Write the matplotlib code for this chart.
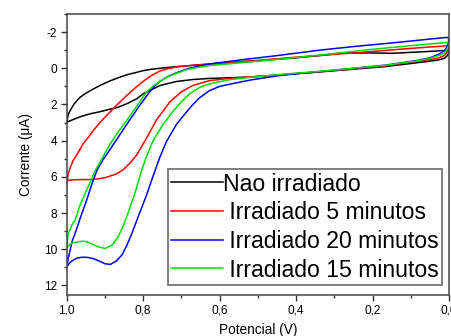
import matplotlib
matplotlib.use("Agg")
import matplotlib.pyplot as plt
from matplotlib.ticker import MultipleLocator, FuncFormatter

plt.rcParams['font.family'] = ['Liberation Sans', 'DejaVu Sans']
plt.rcParams['axes.unicode_minus'] = False

labels = ["Nao irradiado", " Irradiado 5 minutos", " Irradiado 20 minutos", " Irradiado 15 minutos"]
colors = ["#000000", "#ff0000", "#0000ff", "#00e000"]

black_x = [1.0, 0.996, 0.99, 0.98, 0.965, 0.95, 0.93, 0.91, 0.887, 0.865, 0.843, 0.82, 0.80, 0.78, 0.756,
           0.713, 0.652, 0.60, 0.50, 0.40, 0.33, 0.28, 0.21, 0.15, 0.08, 0.02, 0.004,
           0.0, 0.004, 0.012, 0.03, 0.078, 0.164, 0.25, 0.339, 0.42, 0.52, 0.582, 0.626, 0.67, 0.713,
           0.756, 0.783, 0.80, 0.817, 0.843, 0.865, 0.887, 0.913, 0.94, 0.965, 0.985, 1.0]
black_y = [2.98, 2.55, 2.3, 1.95, 1.6, 1.38, 1.14, 0.92, 0.70, 0.52, 0.36, 0.24, 0.13, 0.06, 0.0,
           -0.09, -0.19, -0.28, -0.42, -0.58, -0.72, -0.84, -0.85, -0.83, -0.90, -0.97, -0.99,
           -0.9, -0.7, -0.55, -0.45, -0.32, -0.1, 0.05, 0.2, 0.33, 0.48, 0.53, 0.56, 0.62, 0.73,
           0.95, 1.23, 1.41, 1.69, 1.96, 2.15, 2.26, 2.4, 2.52, 2.68, 2.85, 2.98]

red_x = [1.0, 0.998, 0.996, 0.99, 0.983, 0.97, 0.957, 0.943, 0.93, 0.91, 0.887, 0.865, 0.843, 0.82, 0.80,
         0.78, 0.756, 0.735, 0.713, 0.67, 0.626, 0.52, 0.42, 0.313, 0.2, 0.1, 0.02, 0.004,
         0.0, 0.005, 0.012, 0.03, 0.078, 0.164, 0.25, 0.339, 0.42, 0.52, 0.58, 0.626, 0.67, 0.70,
         0.73, 0.765, 0.791, 0.817, 0.835, 0.852, 0.869, 0.887, 0.899, 0.92, 0.943, 0.965, 0.985, 1.0]
red_y = [6.5, 6.1, 5.82, 5.45, 5.09, 4.65, 4.17, 3.8, 3.43, 2.92, 2.42, 1.95, 1.5, 1.07, 0.72,
         0.42, 0.15, 0.02, -0.08, -0.17, -0.24, -0.40, -0.58, -0.75, -0.93, -1.1, -1.22, -1.25,
         -1.2, -0.9, -0.7, -0.55, -0.4, -0.15, 0.02, 0.2, 0.33, 0.48, 0.57, 0.68, 0.95, 1.3,
         1.85, 2.85, 3.85, 4.8, 5.25, 5.6, 5.83, 5.96, 6.04, 6.12, 6.15, 6.15, 6.17, 6.2]

blue_x = [1.0, 0.996, 0.991, 0.985, 0.978, 0.965, 0.948, 0.935, 0.921, 0.905, 0.887, 0.865, 0.835, 0.81,
          0.783, 0.77, 0.756, 0.735, 0.713, 0.69, 0.67, 0.626, 0.55, 0.45, 0.339, 0.25, 0.15, 0.07, 0.02, 0.004,
          0.0, 0.004, 0.01, 0.025, 0.05, 0.078, 0.164, 0.25, 0.313, 0.4, 0.45, 0.52, 0.56, 0.6, 0.626,
          0.652, 0.67, 0.69, 0.713, 0.739, 0.756, 0.774, 0.791, 0.812, 0.83, 0.843, 0.855, 0.87, 0.886,
          0.9, 0.915, 0.93, 0.945, 0.96, 0.975, 0.99, 1.0]
blue_y = [10.97, 10.5, 10.05, 9.5, 9.13, 8.3, 7.3, 6.45, 5.64, 5.05, 4.5, 3.8, 2.85, 2.08,
          1.3, 0.98, 0.72, 0.45, 0.25, 0.07, -0.05, -0.24, -0.45, -0.7, -1.0, -1.2, -1.4, -1.57, -1.68, -1.71,
          -1.6, -1.25, -1.0, -0.79, -0.58, -0.45, -0.18, 0.0, 0.13, 0.3, 0.42, 0.65, 0.82, 1.0, 1.23,
          1.62, 2.0, 2.5, 3.1, 4.05, 4.9, 5.95, 7.0, 8.15, 9.15, 9.8, 10.3, 10.65, 10.84,
          10.8, 10.65, 10.52, 10.45, 10.44, 10.5, 10.7, 10.97]

green_x = [1.0, 0.998, 0.996, 0.985, 0.978, 0.965, 0.948, 0.925, 0.904, 0.887, 0.865, 0.843, 0.82, 0.791,
           0.775, 0.756, 0.735, 0.713, 0.69, 0.67, 0.626, 0.52, 0.42, 0.313, 0.2, 0.1, 0.03, 0.004,
           0.0, 0.005, 0.012, 0.025, 0.05, 0.078, 0.164, 0.25, 0.339, 0.42, 0.52, 0.58, 0.626, 0.652,
           0.678, 0.70, 0.725, 0.748, 0.774, 0.791, 0.805, 0.82, 0.838, 0.85, 0.865, 0.88, 0.899, 0.92,
           0.94, 0.955, 0.969, 0.985, 1.0]
green_y = [9.87, 9.4, 9.13, 8.6, 8.4, 7.55, 6.74, 5.64, 4.85, 4.2, 3.5, 2.88, 2.2, 1.3,
           1.0, 0.72, 0.47, 0.28, 0.1, 0.0, -0.15, -0.35, -0.55, -0.79, -1.05, -1.25, -1.38, -1.43,
           -1.35, -1.05, -0.85, -0.72, -0.55, -0.43, -0.17, 0.0, 0.17, 0.3, 0.5, 0.65, 0.86, 1.05,
           1.4, 1.85, 2.45, 3.1, 4.0, 4.85, 5.7, 6.8, 7.9, 8.6, 9.3, 9.75, 9.96, 9.85,
           9.65, 9.55, 9.59, 9.65, 9.87]

x_ticks = [1.0, 0.8, 0.6, 0.4, 0.2, 0.0]
y_ticks = [-2, 0, 2, 4, 6, 8, 10, 12]

fig = plt.figure(figsize=(4.52, 3.36), dpi=100)
ax = fig.add_axes([66.7 / 452, 1 - 294.5 / 336, (449 - 66.7) / 452, (294.5 - 14) / 336])

series = [(black_x, black_y), (red_x, red_y), (blue_x, blue_y), (green_x, green_y)]
for (xs, ys), c, lab in zip(series, colors, labels):
    ax.plot(xs, ys, color=c, lw=1.1, label=lab, solid_joinstyle='round')

ax.set_xlim(1.0, 0.0)
ax.set_ylim(12.5, -3)
ax.set_xticks(x_ticks)
ax.set_yticks(y_ticks)
ax.xaxis.set_minor_locator(MultipleLocator(0.1))
ax.yaxis.set_minor_locator(MultipleLocator(1))
ax.xaxis.set_major_formatter(FuncFormatter(lambda v, p: f"{v:.1f}".replace('.', ',')))
ax.yaxis.set_major_formatter(FuncFormatter(lambda v, p: f"{v:.0f}"))
ax.tick_params(which='major', length=4, width=1.0, labelsize=8.6, color='#333333', pad=3)
ax.tick_params(which='minor', length=2.5, width=1.0, color='#333333')
for s in ax.spines.values():
    s.set_color('#444444')
    s.set_linewidth(1.1)

ax.set_xlabel("Potencial (V)", fontsize=9.8, labelpad=5)
ax.set_ylabel("Corrente (μA)", fontsize=9.8, labelpad=8)

leg = ax.legend(loc='lower right', bbox_to_anchor=(0.982, 0.034), borderaxespad=0,
                fontsize=16.6, handlelength=2.25, handletextpad=0.0, labelspacing=0.245,
                borderpad=0.15, frameon=True, fancybox=False)
leg.get_frame().set_edgecolor('#444444')
leg.get_frame().set_linewidth(1.2)

fig.savefig("out.png", dpi=100)
